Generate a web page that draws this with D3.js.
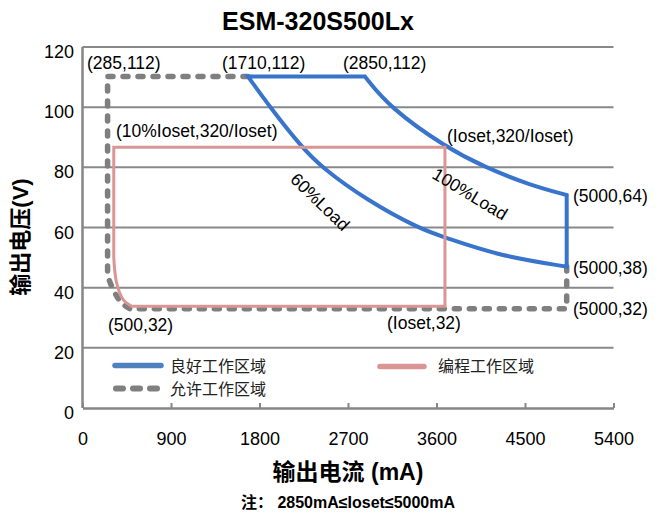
<!DOCTYPE html>
<html>
<head>
<meta charset="utf-8">
<script src="https://cdn.jsdelivr.net/npm/d3@7"></script>
<style>
  body { margin: 0; background: #fff; }
  svg { font-family: 'Liberation Sans', Arial, 'Noto Sans CJK SC', sans-serif; }
</style>
</head>
<body>
<div id="chart"></div>
<script>
// Values (current in mA, voltage in V)
const xTicks = [0, 900, 1800, 2700, 3600, 4500, 5400];
const yTicks = [0, 20, 40, 60, 80, 100, 120];

// Allowed region (grey dashed line)
const allowedTopCurrent = [1683, 255, 255];
const allowedTopVoltage = [110.2, 110.2, 44];
const allowedCornerCurrent = [255, 313, 398, 482];
const allowedCornerVoltage = [44, 39.3, 34.9, 33];
const allowedBottomCurrent = [482, 4924, 4924];
const allowedBottomVoltage = [33, 33, 47];

// Good region (blue): top edge, 100% load curve, 60% load curve
const goodTopCurrent = [1683, 2872];
const goodTopVoltage = [110.2, 110.2];
const fullLoadCurrent = [2872, 3126, 3693, 4093, 4551, 4924];
const fullLoadVoltage = [110.2, 99.8, 86.7, 80, 74.1, 70.8];
const sixtyLoadCurrent = [1683, 1907, 2229, 2432, 2890, 3432, 3686, 4246, 4924];
const sixtyLoadVoltage = [110.2, 100, 86.7, 80, 69.1, 59.5, 56.7, 50.5, 47];

// Programmed region (pink)
const progEdgeCurrent = [318, 318, 3686, 3686, 500];
const progEdgeVoltage = [50, 86.7, 86.7, 33.8, 33.8];
const progCornerCurrent = [500, 414, 347, 318];
const progCornerVoltage = [33.8, 36, 41.6, 50];

const legendItems = ['良好工作区域', '允许工作区域', '编程工作区域'];

const width = 667;
const height = 515;
const plot = { left: 82.5, right: 613.5, top: 47, bottom: 408 };

const colors = {
  good: '#3874cb',
  goodLegend: '#4f81bd',
  prog: '#d99694',
  allowed: '#7f7f7f',
  grid: '#898989',
  axis: '#868686',
};

const x = d3.scaleLinear().domain([0, 5400]).range([plot.left, plot.right]);
const y = d3.scaleLinear().domain([0, 120]).range([plot.bottom, plot.top]);

const svg = d3
  .select('#chart')
  .append('svg')
  .attr('width', width)
  .attr('height', height);

// Join several line pieces (each with its own curve) into one path
const joinPath = (segments, close) => {
  const d = segments
    .map((seg, i) => {
      const piece = d3
        .line()
        .x((p) => x(p[0]))
        .y((p) => y(p[1]))
        .curve(seg.curve)(d3.zip(seg.current, seg.voltage));
      return i === 0 ? piece : piece.replace(/^M/, 'L');
    })
    .join('');
  return close ? d + 'Z' : d;
};

// Gridlines
svg
  .append('g')
  .selectAll('line')
  .data(yTicks.filter((t) => t > 0))
  .enter()
  .append('line')
  .attr('x1', plot.left)
  .attr('x2', plot.right)
  .attr('y1', (t) => y(t))
  .attr('y2', (t) => y(t))
  .style('stroke', colors.grid)
  .style('stroke-width', 2);

// Y axis (line + labels)
svg
  .append('line')
  .attr('x1', plot.left)
  .attr('x2', plot.left)
  .attr('y1', plot.top)
  .attr('y2', plot.bottom)
  .style('stroke', colors.axis)
  .style('stroke-width', 2.5);

svg
  .append('g')
  .selectAll('text')
  .data(yTicks)
  .enter()
  .append('text')
  .attr('x', 74)
  .attr('y', (t) => y(t) + 11)
  .attr('text-anchor', 'end')
  .style('font-size', '18px')
  .style('fill', '#000')
  .text((t) => t);

// X axis with small upward ticks
const xAxis = d3
  .axisBottom(x)
  .tickValues(xTicks)
  .tickFormat(d3.format('d'))
  .tickSizeInner(-5)
  .tickSizeOuter(0)
  .tickPadding(24);

const xAxisG = svg
  .append('g')
  .attr('transform', `translate(0,${plot.bottom})`)
  .call(xAxis);

xAxisG.select('.domain').style('stroke', colors.axis).style('stroke-width', 2.5);
xAxisG.selectAll('.tick line').style('stroke', colors.axis).style('stroke-width', 2);
xAxisG
  .selectAll('.tick text')
  .style('font-size', '18px')
  .style('font-family', "'Liberation Sans', Arial, sans-serif")
  .style('fill', '#000');

// Allowed region (dashed)
svg
  .append('path')
  .attr(
    'd',
    joinPath([
      { current: allowedTopCurrent, voltage: allowedTopVoltage, curve: d3.curveLinear },
      { current: allowedCornerCurrent, voltage: allowedCornerVoltage, curve: d3.curveCatmullRom },
      { current: allowedBottomCurrent, voltage: allowedBottomVoltage, curve: d3.curveLinear },
    ]),
  )
  .style('fill', 'none')
  .style('stroke', colors.allowed)
  .style('stroke-width', 5.5)
  .style('stroke-linecap', 'round')
  .style('stroke-dasharray', '5,10');

// Good region (blue)
svg
  .append('path')
  .attr(
    'd',
    joinPath(
      [
        { current: goodTopCurrent, voltage: goodTopVoltage, curve: d3.curveLinear },
        { current: fullLoadCurrent, voltage: fullLoadVoltage, curve: d3.curveBasis },
        {
          current: sixtyLoadCurrent.slice().reverse(),
          voltage: sixtyLoadVoltage.slice().reverse(),
          curve: d3.curveBasis,
        },
      ],
      true,
    ),
  )
  .style('fill', 'none')
  .style('stroke', colors.good)
  .style('stroke-width', 4);

// Programmed region (pink)
svg
  .append('path')
  .attr(
    'd',
    joinPath(
      [
        { current: progEdgeCurrent, voltage: progEdgeVoltage, curve: d3.curveLinear },
        { current: progCornerCurrent, voltage: progCornerVoltage, curve: d3.curveCatmullRom },
      ],
      true,
    ),
  )
  .style('fill', 'none')
  .style('stroke', colors.prog)
  .style('stroke-width', 3);

// Point annotations
const annotations = [
  ['(285,112)', 87, 69],
  ['(1710,112)', 222, 69],
  ['(2850,112)', 343, 68.5],
  ['(10%Ioset,320/Ioset)', 116, 136.5],
  ['(Ioset,320/Ioset)', 447, 141.5],
  ['(5000,64)', 573, 201.5],
  ['(5000,38)', 573, 273.5],
  ['(5000,32)', 573, 315],
  ['(Ioset,32)', 387, 328.5],
  ['(500,32)', 108, 330.5],
];

svg
  .append('g')
  .selectAll('text')
  .data(annotations)
  .enter()
  .append('text')
  .attr('x', (a) => a[1])
  .attr('y', (a) => a[2])
  .style('font-size', '17.5px')
  .style('fill', '#000')
  .text((a) => a[0]);

// Curve labels
svg
  .append('text')
  .attr('transform', 'translate(320,202) rotate(44)')
  .attr('text-anchor', 'middle')
  .attr('dominant-baseline', 'central')
  .style('font-size', '17.5px')
  .text('60%Load');

svg
  .append('text')
  .attr('transform', 'translate(470,194) rotate(31)')
  .attr('text-anchor', 'middle')
  .attr('dominant-baseline', 'central')
  .style('font-size', '17.5px')
  .text('100%Load');

// Legend
const legend = svg.append('g');
legend
  .append('line')
  .attr('x1', 115).attr('x2', 161)
  .attr('y1', 365.5).attr('y2', 365.5)
  .style('stroke', colors.goodLegend)
  .style('stroke-width', 5.5)
  .style('stroke-linecap', 'round');
legend
  .append('line')
  .attr('x1', 116).attr('x2', 157)
  .attr('y1', 388.5).attr('y2', 388.5)
  .style('stroke', colors.allowed)
  .style('stroke-width', 6)
  .style('stroke-linecap', 'round')
  .style('stroke-dasharray', '7,10');
legend
  .append('line')
  .attr('x1', 380).attr('x2', 424)
  .attr('y1', 366.5).attr('y2', 366.5)
  .style('stroke', colors.prog)
  .style('stroke-width', 5.5)
  .style('stroke-linecap', 'round');

legend
  .selectAll('text')
  .data(legendItems)
  .enter()
  .append('text')
  .attr('x', (d, i) => (i === 2 ? 438 : 170))
  .attr('y', (d, i) => (i === 1 ? 395 : 372))
  .style('font-size', '16px')
  .style('font-family', "'Noto Sans CJK SC', sans-serif")
  .style('fill', '#222')
  .text((d) => d);

// Titles
svg
  .append('text')
  .attr('x', 318)
  .attr('y', 30)
  .attr('text-anchor', 'middle')
  .style('font-size', '25px')
  .style('font-weight', 'bold')
  .text('ESM-320S500Lx');

svg
  .append('text')
  .attr('x', 348)
  .attr('y', 480)
  .attr('text-anchor', 'middle')
  .style('font-size', '23px')
  .style('font-weight', 'bold')
  .text('输出电流 (mA)');

svg
  .append('text')
  .attr('transform', 'translate(28,237) rotate(-90)')
  .attr('text-anchor', 'middle')
  .style('font-size', '22px')
  .style('font-weight', 'bold')
  .text('输出电压(V)');

svg
  .append('text')
  .attr('x', 348)
  .attr('y', 508)
  .attr('text-anchor', 'middle')
  .style('font-size', '16px')
  .style('font-weight', 'bold')
  .text('注：  2850mA≤Ioset≤5000mA');
</script>
</body>
</html>
